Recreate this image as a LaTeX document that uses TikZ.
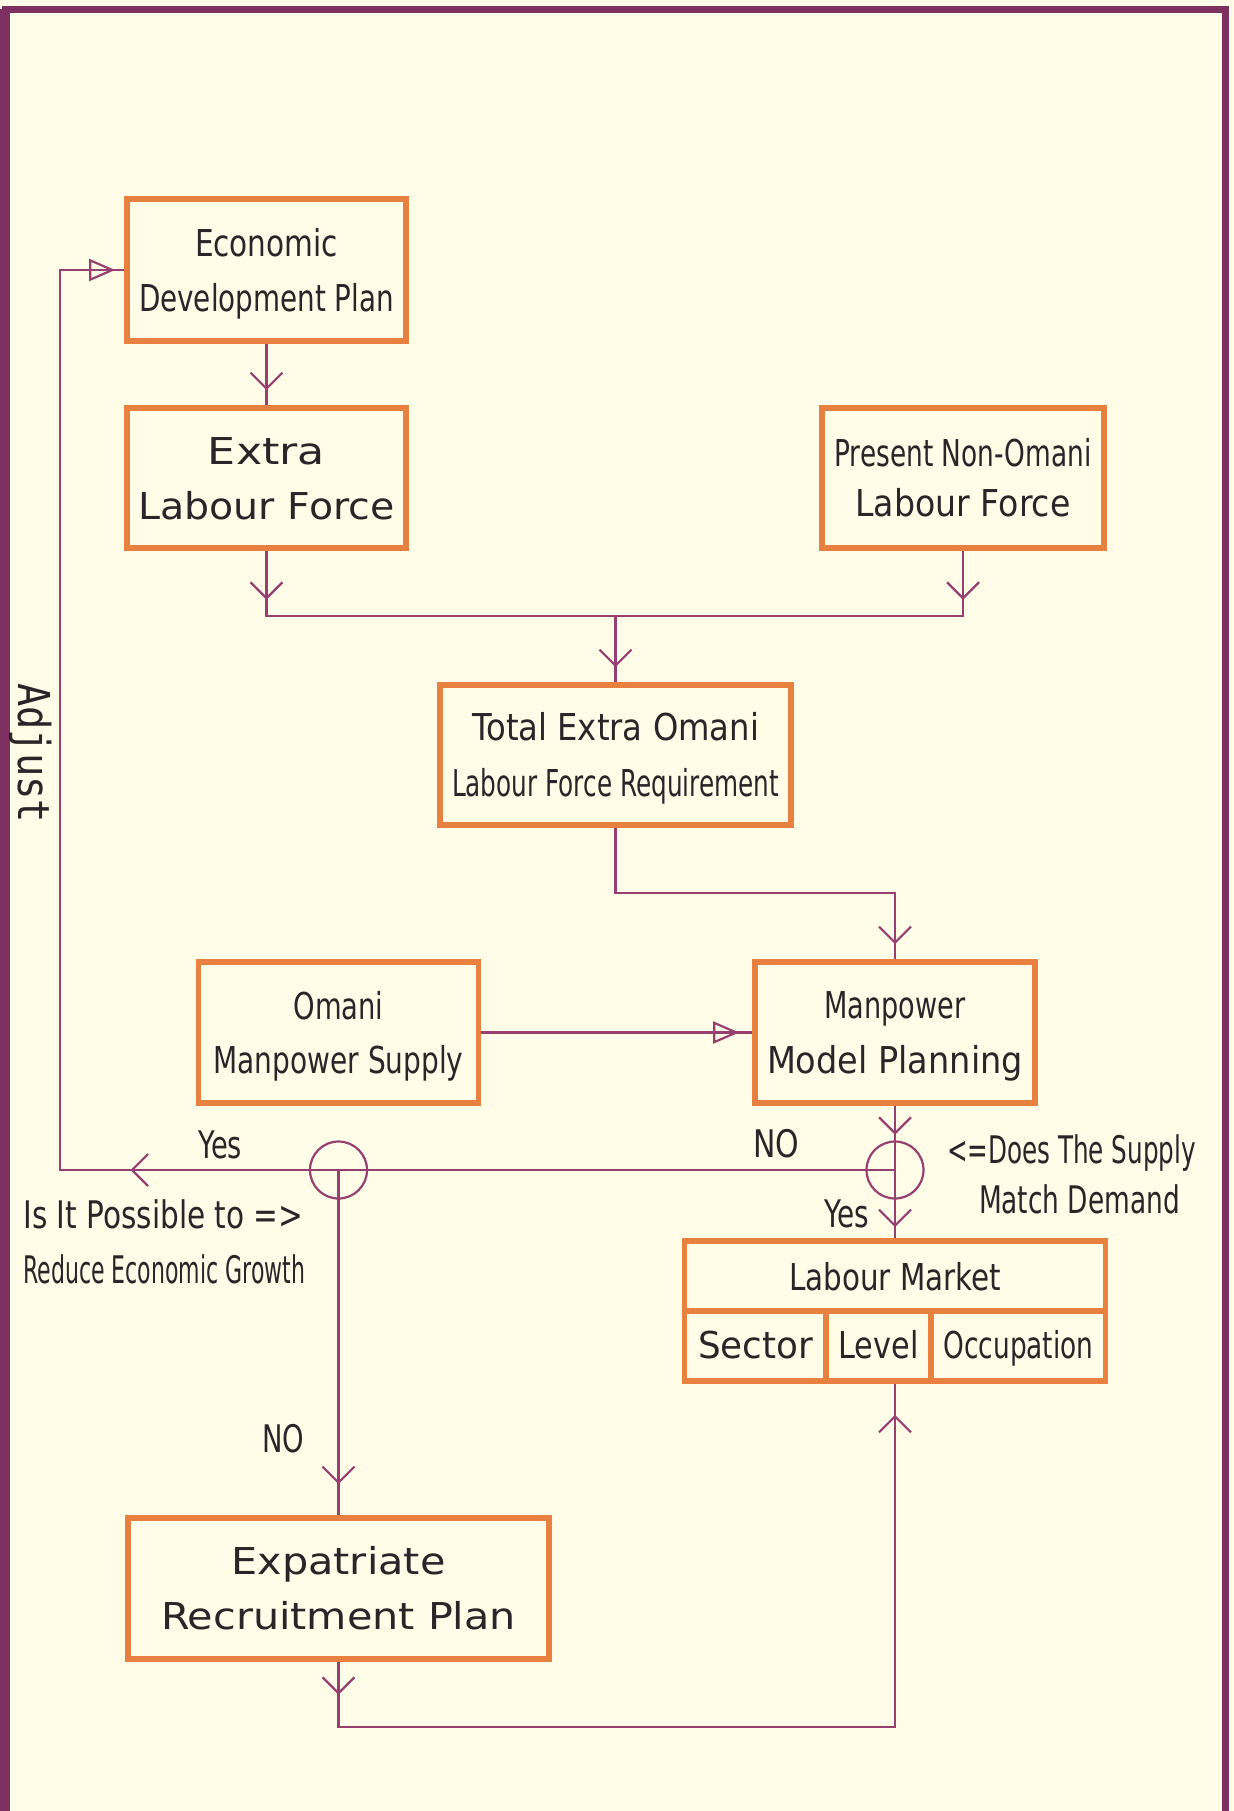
\documentclass[tikz,border=0pt]{standalone}
\usepackage{fontspec}
\setmainfont{DejaVu Sans}
\newfontfamily\adjustfont{DejaVu Sans Mono}
\usepackage{graphicx}
\usetikzlibrary{arrows.meta,decorations.markings}

\definecolor{paper}{HTML}{FFFDE8}
\definecolor{frame}{HTML}{7E3160}
\definecolor{wireclr}{HTML}{963F70}
\definecolor{boxline}{HTML}{E8813F}
\definecolor{ink}{HTML}{2B2428}

% set a line of text to an exact width, keeping its height
\newsavebox\fitbox
\newcommand\fitto[2]{\sbox\fitbox{#2}%
  \pgfmathsetmacro\fitratio{(#1)/(\the\wd\fitbox)}%
  \scalebox{\fitratio}[1]{\usebox\fitbox}}

% two centred lines: cap height 13.5pt, baseline pitch #5
\newcommand\twolines[5]{\vbox{\offinterlineskip\halign{\hfil##\hfil\cr
  \rule{0pt}{13.5pt}\smash{\fitto{#1}{#2}}\cr
  \noalign{\vskip\dimexpr#5-13.5pt\relax}
  \rule{0pt}{13.5pt}\smash{\fitto{#3}{#4}}\cr}}}

\tikzset{
  stage/.style={draw=boxline, line width=2.8pt, inner sep=0pt, text=ink,
    font=\fontsize{18.5}{22}\selectfont},
  lbl/.style={inner sep=0pt, text=ink, anchor=base,
    font=\fontsize{19}{22}\selectfont},
  conn/.style={draw=wireclr, line width=1.1pt},
  decision/.style={circle, draw=wireclr, line width=1.1pt,
    minimum size=28.5pt, inner sep=0pt},
  vtip/.style={postaction={decorate,decoration={markings,
    mark=at position #1 with {\arrow{Straight Barb[length=8pt,width=16pt]}}}}},
  ttip/.style={postaction={decorate,decoration={markings,
    mark=at position #1 with {\arrow{Triangle[open,length=13pt,width=11pt]}}}}},
}

\begin{document}
\begin{tikzpicture}[x=0.5pt,y=-0.5pt]
\useasboundingbox (0,0) rectangle (1234,1811);
\fill[paper] (0,0) rectangle (1234,1811);

% page frame
\draw[frame, line width=3.5pt] (5,1811) -- (5,9) -- (1225,9) -- (1225,1811);
\draw[frame, line width=5pt] (5,1811) -- (5,9);

% process boxes
\node[stage, minimum width=139.5pt, minimum height=71pt] (edp) at (266.5,270)
  {\twolines{71.5pt}{Economic}{127.5pt}{Development Plan}{27.5pt}};
\node[stage, minimum width=139.5pt, minimum height=70pt] (el) at (266.5,478)
  {\twolines{58.5pt}{Extra}{128pt}{Labour Force}{27.5pt}};
\node[stage, minimum width=141pt, minimum height=70pt] (pr) at (963,478)
  {\twolines{128.5pt}{Present Non-Omani}{107.5pt}{Labour Force}{25pt}};
\node[stage, minimum width=175.5pt, minimum height=70pt] (tot) at (615.5,755)
  {\twolines{143.5pt}{Total Extra Omani}{163.5pt}{Labour Force Requirement}{28pt}};
\node[stage, minimum width=140pt, minimum height=70.5pt] (oms) at (338.5,1032.5)
  {\twolines{45pt}{Omani}{125pt}{Manpower Supply}{27pt}};
\node[stage, minimum width=140pt, minimum height=70.5pt] (mmp) at (895,1032.5)
  {\twolines{70.5pt}{Manpower}{128pt}{Model Planning}{27.5pt}};
\node[stage, minimum width=210.5pt, minimum height=70pt] (lm) at (895,1311) {};
\node[stage, minimum width=210.5pt, minimum height=70.5pt] (exp) at (338.5,1588.5)
  {\twolines{107pt}{Expatriate}{177.5pt}{Recruitment Plan}{27.5pt}};

% labour market cells
\draw[boxline, line width=2.8pt] (lm.west) -- (lm.east);
\draw[boxline, line width=2.8pt] (826,1311) -- (826,1381);
\draw[boxline, line width=2.8pt] (931,1311) -- (931,1381);
\node[lbl, font=\fontsize{18.5}{22}\selectfont] (lmt) at (895,1290) {\fitto{106pt}{Labour Market}};
\node[lbl, font=\fontsize{18.5}{22}\selectfont] (sec) at (755.5,1358) {\fitto{57.5pt}{Sector}};
\node[lbl, font=\fontsize{18.5}{22}\selectfont] (lev) at (878.5,1358) {\fitto{40pt}{Level}};
\node[lbl, font=\fontsize{18.5}{22}\selectfont] (occ) at (1018.5,1358) {\fitto{75pt}{Occupation}};

% decision points
\node[decision] (match) at (895,1170) {};
\node[decision] (reduce) at (338.5,1170) {};

% helper corners
\coordinate (jn) at (615.5,616);
\coordinate (k1) at (615.5,893);
\coordinate (k2) at (338.5,1727);
\coordinate (corner) at (60,1170);

% connectors
\draw[conn, vtip=-7.5pt] (edp.south) -- (el.north);
\draw[conn, vtip=24.5pt] (el.south) |- (jn);
\draw[conn, vtip=24.5pt] (pr.south) |- (jn);
\draw[conn, vtip=-7.5pt] (jn) -- (tot.north);
\draw[conn, vtip=-7.5pt] (tot.south) -- (k1) -| (mmp.north);
\draw[conn, ttip=-6.5pt] (oms.east) -- (mmp.west);
\draw[conn, vtip=14.5pt] (mmp.south) -- (match.center);
\draw[conn, vtip=-5.5pt] (match.center) -- (lm.north);
\draw[conn] (match.center) -- (reduce.center);
\draw[conn, vtip=104pt, ttip=-4.5pt] (reduce.center) -- (corner) |- (edp.west);
\draw[conn, vtip=-15.5pt] (reduce.center) -- (exp.north);
\draw[conn, vtip=16.5pt, vtip=-15.5pt] (exp.south) -- (k2) -| (lm.south);

% labels
\node[lbl] (yesl) at (220,1158) {\fitto{22pt}{Yes}};
\node[lbl, anchor=base west] (q1) at (23,1228) {\fitto{140pt}{Is It Possible to =>}};
\node[lbl, anchor=base west] (q2) at (23,1283) {\fitto{141pt}{Reduce Economic Growth}};
\node[lbl] (nor) at (776,1157) {\fitto{23pt}{NO}};
\node[lbl] (d1) at (1071.5,1163) {\fitto{124.5pt}{<=Does The Supply}};
\node[lbl] (d2) at (1079.5,1213) {\fitto{100.5pt}{Match Demand}};
\node[lbl] (yesr) at (846.5,1227) {\fitto{22.5pt}{Yes}};
\node[lbl] (nol) at (283,1452) {\fitto{21pt}{NO}};
\node[inner sep=0pt, text=ink, rotate=-90, font=\adjustfont\fontsize{22}{24}\selectfont]
  (adj) at (31,753) {\fitto{70pt}{Adjust}};
\end{tikzpicture}
\end{document}
